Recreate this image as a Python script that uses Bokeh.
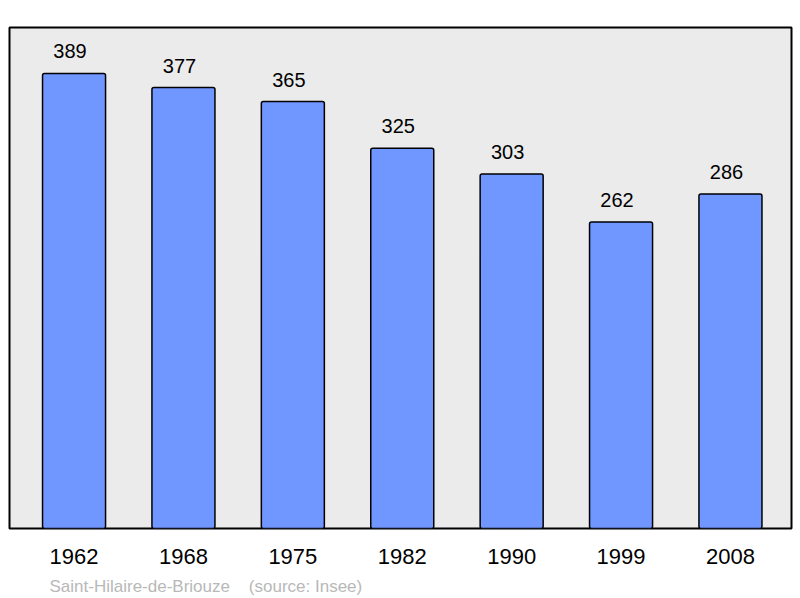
from bokeh.plotting import figure
from bokeh.models import Range1d, FixedTicker, Title, ColumnDataSource
from bokeh.core.properties import value
from bokeh.embed import file_html
from bokeh.resources import INLINE

years = ["1962", "1968", "1975", "1982", "1990", "1999", "2008"]
population = [389, 377, 365, 325, 303, 262, 286]
caption = "Saint-Hilaire-de-Briouze\u00a0\u00a0\u00a0\u00a0(source: Insee)"

xs = list(range(len(years)))
src = ColumnDataSource(dict(x=xs, top=population, label=[str(v) for v in population]))

p = figure(width=800, height=598, output_backend="svg", toolbar_location=None,
           x_range=Range1d(-0.59, 6.558), y_range=Range1d(0, 428.3),
           y_axis_location=None, min_border_left=9, min_border_right=9,
           min_border_top=27, min_border_bottom=70)
p.background_fill_color = "#ebebeb"
p.border_fill_color = "white"
p.outline_line_color = "black"
p.outline_line_width = 2
p.xgrid.visible = False
p.ygrid.visible = False

p.vbar(x="x", top="top", bottom=0, width=0.576, source=src,
       fill_color="#7096ff", line_color="black", line_width=1.5, border_radius=2)
p.text(x="x", y="top", text="label", source=src, text_align="center",
       text_baseline="alphabetic", x_offset=-4, y_offset=-22, text_font_size="20px",
       text_font=value("Liberation Sans"), text_color="black")

ax = p.xaxis[0]
ax.ticker = FixedTicker(ticks=xs)
ax.major_label_overrides = {i: y for i, y in enumerate(years)}
ax.axis_line_color = None
ax.major_tick_line_color = None
ax.minor_tick_line_color = None
ax.major_label_text_font = "Liberation Sans"
ax.major_label_text_font_size = "22px"
ax.major_label_text_color = "black"
ax.major_label_standoff = 14
ax.axis_label = "\u00a0"
ax.axis_label_text_font_size = "4px"
ax.axis_label_standoff = 0

p.add_layout(Title(text=caption, align="left", offset=40, standoff=0,
                   text_font="Liberation Sans", text_font_size="17px",
                   text_font_style="normal", text_color="#b8b8b8"), "below")

open("out.html", "w").write(file_html(p, INLINE))
